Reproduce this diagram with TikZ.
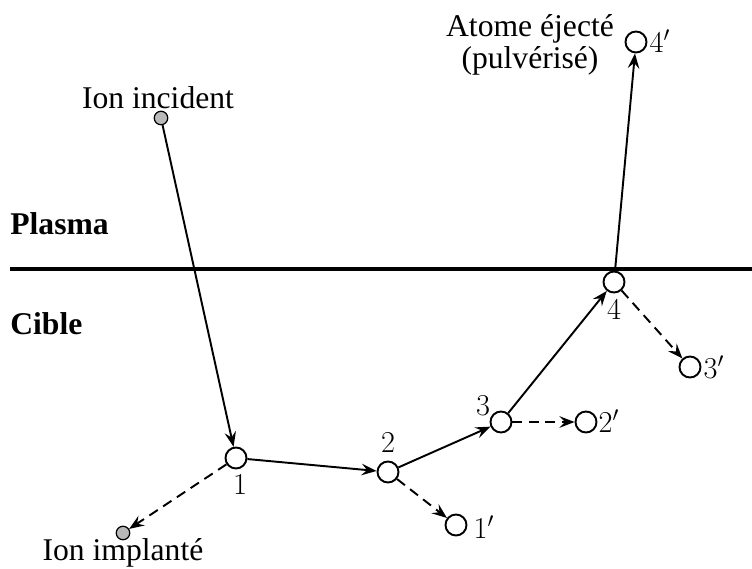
\documentclass[tikz,border=0pt]{standalone}
\usepackage[no-math]{fontspec}
\setmainfont{Liberation Serif}
\usetikzlibrary{arrows.meta,positioning}

\begin{document}
\begin{tikzpicture}[
  x=0.02cm, y=-0.02cm,
  font=\fontsize{18}{18}\selectfont,
  atom/.style={circle, draw, line width=1.1pt, minimum size=0.42cm, inner sep=0pt},
  ion/.style={circle, draw, fill=gray!55, line width=0.7pt, minimum size=0.27cm, inner sep=0pt},
  arrow/.style={-{Stealth[length=3mm, width=2.3mm, inset=1.1mm]}, line width=1.1pt},
  recul/.style={arrow, dash pattern=on 0.2cm off 0.13cm}
]
\useasboundingbox (0,0) rectangle (752,569);

% surface
\coordinate (sl) at (10,269);
\coordinate (sr) at (752,269);
\draw[line width=1.8pt] (sl) -- (sr);
\node[anchor=west, inner sep=0pt, font=\fontsize{18}{18}\selectfont\bfseries] (plasma) at (10,224) {Plasma};
\node[anchor=west, inner sep=0pt, font=\fontsize{18}{18}\selectfont\bfseries] (cible) at (10,324) {Cible};

% atoms
\node[ion] (inc) at (161,118) {};
\node[ion] (imp) at (123,533) {};
\node[atom] (a1) at (236,458) {};
\node[atom] (a2) at (388,472) {};
\node[atom] (a3) at (501,422) {};
\node[atom] (a4) at (614,282) {};
\node[atom] (b1) at (456,525) {};
\node[atom] (b2) at (586,422) {};
\node[atom] (b3) at (690,367) {};
\node[atom] (b4) at (636,42) {};

% labels
\node (incl) at (158,98) {Ion incident};
\node (impl) at (123,553) {Ion implant\'e};
\node[align=center] (ejl) at (530,45) {Atome \'eject\'e\\(pulv\'eris\'e)};
\node (l1) at (240,485) {$1$};
\node (l2) at (388,443) {$2$};
\node (l3) at (483,406) {$3$};
\node (l4) at (614,310) {$4$};
\node (l1p) at (484,527) {$1'$};
\node (l2p) at (609,421) {$2'$};
\node (l3p) at (714,367) {$3'$};
\node (l4p) at (660,41) {$4'$};

% collisions
\draw[arrow] (inc) -- (a1);
\draw[arrow] (a1) -- (a2);
\draw[arrow] (a2) -- (a3);
\draw[arrow] (a3) -- (a4);
\draw[arrow] (a4) -- (b4);
\draw[recul] (a1) -- (imp);
\draw[recul] (a2) -- (b1);
\draw[recul] (a3) -- (b2);
\draw[recul] (a4) -- (b3);
\end{tikzpicture}
\end{document}
